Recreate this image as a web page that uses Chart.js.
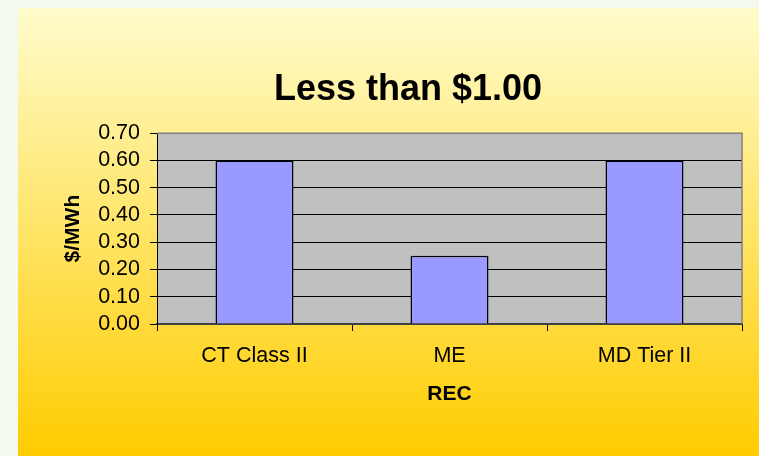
<!DOCTYPE html>
<html>
<head>
<meta charset="utf-8">
<script src="https://cdn.jsdelivr.net/npm/chart.js@4"></script>
<style>
  body { margin: 0; background: #f3f9ee; }
  canvas { display: block; }
</style>
</head>
<body>
<canvas id="recChart" width="759" height="456"></canvas>
<script>
// data
const categories = ["CT Class II", "ME", "MD Tier II"];
const prices = [0.60, 0.25, 0.60];
const yTicks = [0, 0.1, 0.2, 0.3, 0.4, 0.5, 0.6, 0.7];

const FONT = "'Liberation Sans', Arial, sans-serif";

// panel gradient + grey plot box
const backdrop = {
    id: "backdrop",
    afterLayout(chart) {
        // title sits a little right of the canvas centre
        if (chart.titleBlock) {
            chart.titleBlock.left += 13;
        }
    },
    beforeDraw(chart) {
        const ctx = chart.ctx;
        const a = chart.chartArea;
        ctx.save();
        ctx.fillStyle = "#f3f9ee";
        ctx.fillRect(0, 0, chart.width, chart.height);
        const g = ctx.createLinearGradient(0, 8, 0, chart.height);
        g.addColorStop(0, "#fffccc");
        g.addColorStop(1, "#ffcc00");
        ctx.fillStyle = g;
        ctx.fillRect(18, 8, chart.width - 18, chart.height - 8);
        ctx.fillStyle = "#c0c0c0";
        ctx.fillRect(a.left, a.top, a.right - a.left, a.bottom - a.top);
        ctx.restore();
    },
    afterDraw(chart) {
        const ctx = chart.ctx;
        const a = chart.chartArea;
        ctx.save();
        ctx.strokeStyle = "#808080";
        ctx.lineWidth = 1.5;
        ctx.beginPath();
        ctx.moveTo(a.left, a.top);
        ctx.lineTo(a.right, a.top);
        ctx.lineTo(a.right, a.bottom);
        ctx.stroke();
        ctx.restore();
    }
};

new Chart("recChart", {
    type: "bar",
    data: {
        labels: categories,
        datasets: [{
            data: prices,
            backgroundColor: "#9999ff",
            borderColor: "#000000",
            borderWidth: 1.5,
            barPercentage: 0.4,
            categoryPercentage: 1.0
        }]
    },
    options: {
        responsive: false,
        animation: false,
        devicePixelRatio: 1,
        layout: { padding: { left: 61, right: 17, top: 68, bottom: 0 } },
        plugins: {
            legend: { display: false },
            tooltip: { enabled: false },
            title: {
                display: true,
                text: "Less than $1.00",
                color: "#000",
                font: { family: FONT, size: 36, weight: "bold" },
                padding: { top: 0, bottom: 22 }
            }
        },
        scales: {
            x: {
                grid: {
                    offset: true,
                    drawOnChartArea: false,
                    drawTicks: true,
                    tickLength: 7,
                    tickColor: "#000",
                    tickWidth: 1
                },
                border: { color: "#404040", width: 2 },
                ticks: {
                    color: "#000",
                    padding: 12,
                    font: { family: FONT, size: 21.5 }
                },
                title: {
                    display: true,
                    text: "REC",
                    color: "#000",
                    font: { family: FONT, size: 21, weight: "bold" },
                    padding: { top: 0, bottom: 49 }
                },
                afterFit(scale) { scale.height = 132; }
            },
            y: {
                min: 0,
                max: 0.7,
                afterBuildTicks(scale) {
                    scale.ticks = yTicks.map(v => ({ value: v }));
                },
                grid: {
                    color: c => (c.tick && c.tick.value >= 0.7) ? "#808080" : "#000",
                    lineWidth: 1,
                    tickLength: 7,
                    tickColor: "#000"
                },
                border: { color: "#000", width: 1 },
                ticks: {
                    autoSkip: false,
                    color: "#000",
                    padding: 10,
                    font: { family: FONT, size: 21.5 },
                    callback: v => Number(v).toFixed(2)
                },
                title: {
                    display: true,
                    text: "$/MWh",
                    color: "#000",
                    font: { family: FONT, size: 21, weight: "bold" },
                    padding: { top: 0, bottom: 0 }
                },
                afterFit(scale) { scale.width = 96; }
            }
        }
    },
    plugins: [backdrop]
});
</script>
</body>
</html>
